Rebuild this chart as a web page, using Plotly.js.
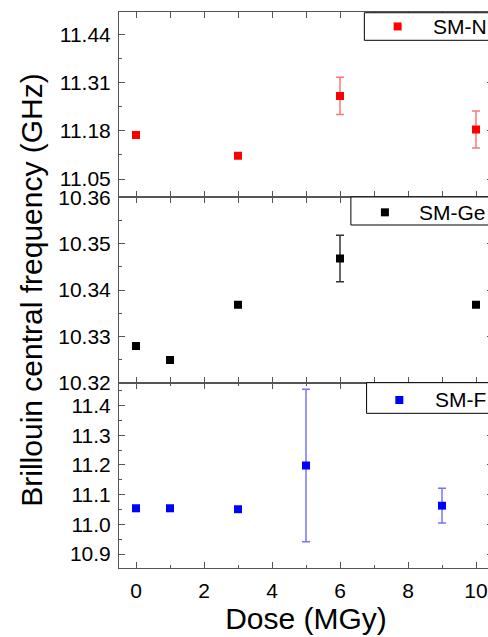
<!DOCTYPE html>
<html>
<head>
<meta charset="utf-8">
<script src="https://cdn.plot.ly/plotly-3.0.1.min.js"></script>
<style>
html,body{margin:0;padding:0;overflow:hidden;background:#fff;}
#chart{width:500px;height:637px;}
</style>
</head>
<body>
<div id="chart"></div>
<script>
// Data
var doseN = [0, 3, 6, 10];
var freqN = [11.169, 11.113, 11.274, 11.1835];
var errN = [0.004, 0.006, 0.050, 0.050];

var doseGe = [0, 1, 3, 6, 10];
var freqGe = [10.3279, 10.3249, 10.3368, 10.3468, 10.3368];
var errGe = [0.0006, 0.0005, 0.0005, 0.005, 0.0005];

var doseF = [0, 1, 3, 5, 9];
var freqF = [11.054, 11.054, 11.051, 11.198, 11.063];
var errF = [0.004, 0.004, 0.004, 0.257, 0.0586];

var seriesNames = ['SM-N', 'SM-Ge', 'SM-F'];
var seriesColors = ['#ff0000', '#000000', '#0000ff'];
var errorColors = ['rgba(255,70,70,0.75)', '#333333', 'rgba(70,70,255,0.75)'];

var font = 'Liberation Sans, Arial, sans-serif';
var lineCol = '#555555';

function trace(x, y, e, i, yaxis) {
  return {
    x: x, y: y, type: 'scatter', mode: 'markers', name: seriesNames[i],
    xaxis: 'x', yaxis: yaxis, showlegend: false,
    marker: {symbol: 'square', size: 8, color: seriesColors[i]},
    error_y: {type: 'data', array: e, visible: true, color: errorColors[i], thickness: 1.5, width: 4}
  };
}

var data = [
  trace(doseN, freqN, errN, 0, 'y'),
  trace(doseGe, freqGe, errGe, 1, 'y2'),
  trace(doseF, freqF, errF, 2, 'y3')
];

function yax(domain, range, tick0, dtick, fmt, minorD) {
  return {
    domain: domain, range: range, anchor: 'x',
    tick0: tick0, dtick: dtick, tickformat: fmt,
    showline: true, linecolor: lineCol, linewidth: 1, mirror: 'ticks',
    ticks: 'inside', ticklen: 6, tickwidth: 1, tickcolor: lineCol,
    minor: {ticks: 'inside', ticklen: 3, dtick: minorD, tick0: tick0, tickcolor: lineCol},
    showgrid: false, zeroline: false,
    tickfont: {family: font, size: 21, color: '#000'},
    ticklabelstandoff: 3
  };
}

// Legend boxes (paper coordinates): box [x0, y0, y1], marker [x, y], text x
var legendBoxes = [
  {x0: 0.656, y0: 0.9491, y1: 0.9987, mx: 0.745, my: 0.974, tx: 0.834},
  {x0: 0.620, y0: 0.6169, y1: 0.6673, mx: 0.711, my: 0.6397, tx: 0.798},
  {x0: 0.662, y0: 0.2782, y1: 0.3333, mx: 0.7495, my: 0.3022, tx: 0.839}
];
var shapes = [], annotations = [];
legendBoxes.forEach(function (b, i) {
  shapes.push({type: 'rect', xref: 'paper', yref: 'paper', x0: b.x0, x1: 1.2, y0: b.y0, y1: b.y1,
    line: {color: '#000', width: 1}, fillcolor: '#fff', layer: 'above'});
  shapes.push({type: 'rect', xref: 'paper', yref: 'paper', xsizemode: 'pixel', ysizemode: 'pixel',
    xanchor: b.mx, yanchor: b.my, x0: -4, x1: 4, y0: -4, y1: 4,
    line: {width: 0}, fillcolor: seriesColors[i], layer: 'above'});
  annotations.push({xref: 'paper', yref: 'paper', x: b.tx, y: b.my, xanchor: 'left', yanchor: 'middle',
    text: seriesNames[i], showarrow: false, font: {family: font, size: 21, color: '#000'}});
});

var layout = {
  width: 500, height: 637,
  margin: {l: 119, r: 7, t: 12, b: 69},
  paper_bgcolor: '#fff', plot_bgcolor: '#fff',
  showlegend: false,
  xaxis: {
    anchor: 'y3', range: [-0.5, 10.5], tick0: 0, dtick: 2,
    showline: true, linecolor: lineCol, linewidth: 1, mirror: 'allticks',
    ticks: 'inside', ticklen: 6, tickwidth: 1, tickcolor: lineCol,
    minor: {ticks: 'inside', ticklen: 3, dtick: 1, tickcolor: lineCol},
    showgrid: false, zeroline: false,
    tickfont: {family: font, size: 21, color: '#000'},
    ticklabelstandoff: 4,
    title: {text: 'Dose (MGy)', font: {family: font, size: 30, color: '#000'}, standoff: 2}
  },
  yaxis: yax([2/3, 1], [11.001, 11.50], 11.05, 0.13, '.2f', 0.065),
  yaxis2: Object.assign(yax([1/3, 2/3], [10.3199999, 10.3600001], 10.32, 0.01, '.2f', 0.005), {
    title: {text: 'Brillouin central frequency (GHz)', font: {family: font, size: 30, color: '#000'}, standoff: 6}
  }),
  yaxis3: yax([0, 1/3], [10.853, 11.477], 10.9, 0.1, '.1f', 0.05),
  shapes: shapes,
  annotations: annotations
};

Plotly.newPlot('chart', data, layout, {displayModeBar: false, staticPlot: true});
</script>
</body>
</html>
